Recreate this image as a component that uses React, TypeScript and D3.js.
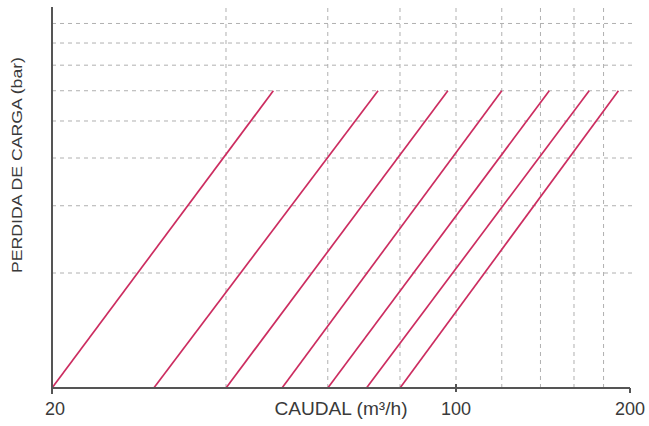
import React from "react";
import * as d3 from "d3";

const startFlow = [20, 30, 40, 50, 60, 70, 80];
const endFlow = [48.3, 73.3, 96.8, 120, 145, 170, 191];
const startLoss = 0.1;
const endLoss = 0.6;
const xGrid = [40, 60, 80, 100, 120, 140, 160, 180];
const yGrid = [0.2, 0.3, 0.4, 0.5, 0.6, 0.7, 0.8, 0.9];
const xTickLabels = [20, 100, 200];

const W = 649;
const H = 426;

export default function App() {
  const x = d3.scaleLog().domain([20, 200]).range([52, 630]);
  const y = d3.scaleLog().domain([0.1, 1]).range([388, 6]);
  const line = d3
    .line<[number, number]>()
    .x((d) => x(d[0]))
    .y((d) => y(d[1]));
  const font = "'Liberation Sans', Arial, sans-serif";
  return (
    <svg
      width={W}
      height={H}
      style={{ position: "absolute", left: 0, top: 0, background: "#fff" }}
    >
      <g>
        {yGrid.map((v) => (
          <line
            key={"h" + v}
            x1={x(20)}
            x2={x(200) + 2}
            y1={y(v)}
            y2={y(v)}
            stroke="#b0b0b0"
            strokeWidth={1}
            strokeDasharray="4,4"
          />
        ))}
        {xGrid.map((v) => (
          <line
            key={"v" + v}
            x1={x(v)}
            x2={x(v)}
            y1={8}
            y2={y(0.1)}
            stroke="#b0b0b0"
            strokeWidth={1}
            strokeDasharray="4,4"
          />
        ))}
      </g>
      <g>
        {startFlow.map((s, i) => (
          <path
            key={"l" + i}
            d={line([
              [s, startLoss],
              [endFlow[i], endLoss],
            ]) as string}
            stroke="#cc2d60"
            strokeWidth={1.7}
            fill="none"
          />
        ))}
      </g>
      <g stroke="#555" strokeWidth={2} fill="none">
        <line x1={x(20)} x2={x(20)} y1={7} y2={y(0.1) + 6} />
        <line x1={x(20)} x2={x(200)} y1={y(0.1)} y2={y(0.1)} />
        <line x1={x(100)} x2={x(100)} y1={y(0.1) - 4} y2={y(0.1) + 4} />
        <line x1={x(200)} x2={x(200)} y1={y(0.1)} y2={y(0.1) + 5} />
      </g>
      <g fill="#3a3a3a" fontFamily={font} fontSize={18}>
        {xTickLabels.map((t) => (
          <text key={"t" + t} x={x(t) + (t === 20 ? 3 : 0)} y={415} textAnchor="middle">
            {t}
          </text>
        ))}
        <text x={341} y={415} textAnchor="middle" textLength={133} lengthAdjust="spacingAndGlyphs">
          CAUDAL (m³/h)
        </text>
        <text
          transform="translate(22,165) rotate(-90)"
          textAnchor="middle"
          fontSize={15.5}
          textLength={216}
          lengthAdjust="spacingAndGlyphs"
        >
          PERDIDA DE CARGA (bar)
        </text>
      </g>
    </svg>
  );
}
